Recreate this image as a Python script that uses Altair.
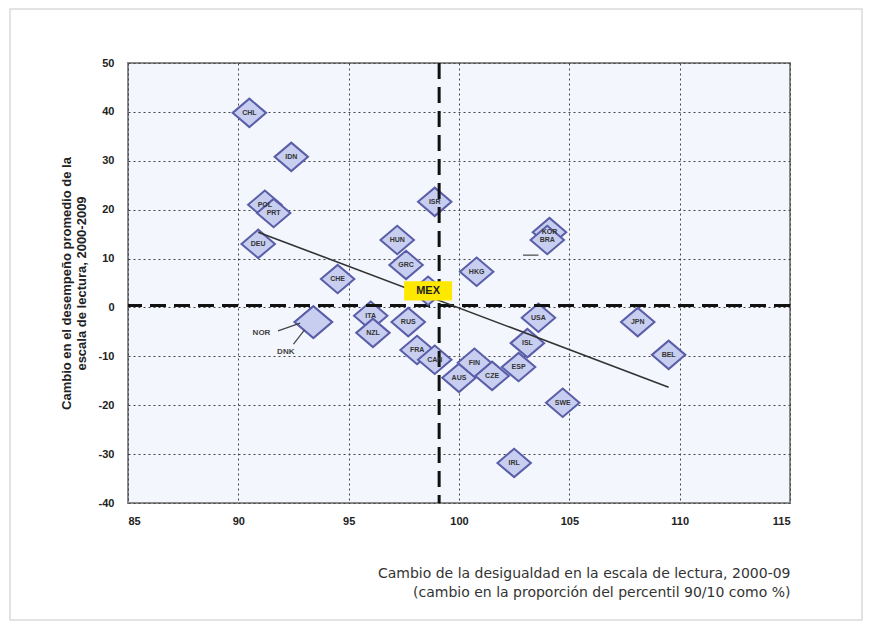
import altair as alt
import pandas as pd

# ---- data ----
codes = ["CHL", "IDN", "POL", "PRT", "DEU", "CHE", "ISR", "HUN", "GRC", "HKG",
         "KOR", "BRA", "ITA", "NZL", "RUS", "FRA", "CAN", "AUS", "FIN", "CZE",
         "ESP", "USA", "ISL", "SWE", "IRL", "JPN", "BEL"]
ineq = [90.5, 92.4, 91.2, 91.6, 90.9, 94.5, 98.9, 97.2, 97.6, 100.8,
        104.1, 104.0, 96.0, 96.1, 97.7, 98.1, 98.9, 100.0, 100.7, 101.5,
        102.7, 103.6, 103.1, 104.7, 102.5, 108.1, 109.5]
perf = [39.8, 30.8, 21.0, 19.3, 13.0, 5.8, 21.6, 13.8, 8.7, 7.3,
        15.4, 13.8, -1.7, -5.2, -3.0, -8.7, -10.7, -14.4, -11.3, -14.0,
        -12.2, -2.1, -7.3, -19.5, -31.8, -3.0, -9.7]

big_codes = ["NOR", "DNK"]
big_x = [93.4, 93.4]
big_y = [-3.0, -3.0]

mex_x = [98.6]
mex_y = [3.4]

# external labels with leader lines (NOR, DNK)
ext_label = ["NOR", "DNK"]
ext_x = [91.05, 92.15]
ext_y = [-5.2, -9.1]
lead_x1 = [91.8, 92.5, 102.9]
lead_y1 = [-4.8, -7.5, 10.7]
lead_x2 = [92.8, 93.0, 103.6]
lead_y2 = [-3.2, -4.6, 10.7]

trend_x = [90.9, 109.5]
trend_y = [15.4, -16.3]

ref_x = 99.1
ref_y = 0.4

x_ticks = [85, 90, 95, 100, 105, 110, 115]
y_ticks = [-40, -30, -20, -10, 0, 10, 20, 30, 40, 50]

x_title = ["Cambio de la desigualdad en la escala de lectura, 2000-09",
           "(cambio en la proporción del percentil 90/10 como %)"]
y_title = ["Cambio en el desempeño promedio de la",
           "escala de lectura, 2000-2009"]

# ---- tables ----
pts = pd.DataFrame({"code": codes, "x": ineq, "y": perf})
big = pd.DataFrame({"code": big_codes, "x": big_x, "y": big_y})
mex = pd.DataFrame({"code": ["MEX"], "x": mex_x, "y": mex_y})
ext = pd.DataFrame({"label": ext_label, "x": ext_x, "y": ext_y})
lead = pd.DataFrame({"x": lead_x1, "y": lead_y1, "x2": lead_x2, "y2": lead_y2})
trend = pd.DataFrame({"x": trend_x, "y": trend_y})
vdf = pd.DataFrame({"x": [ref_x]})
hdf = pd.DataFrame({"y": [ref_y]})

W, H = 662, 440
FONT = "Liberation Sans"

xs = alt.Scale(domain=[85, 115], nice=False, zero=False)
ys = alt.Scale(domain=[-40, 50], nice=False, zero=False)

xaxis = alt.Axis(values=x_ticks, title=x_title, titleAnchor="end", titleAlign="right",
                 titlePadding=40, labelPadding=12, ticks=False, domain=False,
                 labelExpr="toString(datum.value)",
                 grid=True, gridDash=[2, 3], gridColor="#444", gridWidth=1,
                 labelFont=FONT, labelFontSize=11, labelFontWeight="bold", labelColor="#222",
                 titleFont="DejaVu Sans", titleFontSize=14, titleFontWeight="normal",
                 titleColor="#333", titleLineHeight=19)
yaxis = alt.Axis(values=y_ticks, title=y_title, titlePadding=10, labelPadding=14,
                 ticks=False, domain=False,
                 labelExpr="toString(datum.value)",
                 grid=True, gridDash=[2, 3], gridColor="#444", gridWidth=1,
                 labelFont=FONT, labelFontSize=11, labelFontWeight="bold", labelColor="#222",
                 titleFont=FONT, titleFontSize=13, titleFontWeight="bold", titleColor="#222",
                 titleLineHeight=15)

X = alt.X("x:Q", scale=xs, axis=xaxis)
Y = alt.Y("y:Q", scale=ys, axis=yaxis)

DIAMOND = "M-1,0L0,-0.85L1,0L0,0.85Z"
FILL = "#C7CEEF"
STROKE = "#5A5DA8"

frame = alt.Chart(pd.DataFrame({"a": [0]})).mark_rect(
    fill=None, stroke="#dadada", strokeWidth=1.5
).encode(x=alt.value(-118), x2=alt.value(734), y=alt.value(-54), y2=alt.value(557))

base_pts = alt.Chart(pts).mark_point(
    shape=DIAMOND, size=1120, filled=True, fill=FILL, stroke=STROKE, strokeWidth=2, opacity=1
).encode(x=X, y=Y)

pt_labels = alt.Chart(pts).mark_text(
    font=FONT, fontSize=7, fontWeight="bold", color="#333"
).encode(x=X, y=Y, text="code:N")

big_pts = alt.Chart(big).mark_point(
    shape=DIAMOND, size=1400, filled=True, fill=FILL, stroke=STROKE, strokeWidth=2, opacity=1
).encode(x=X, y=Y)

vline = alt.Chart(vdf).mark_rule(
    color="#111", strokeWidth=3, strokeDash=[16, 8]
).encode(x=X)
hline = alt.Chart(hdf).mark_rule(
    color="#111", strokeWidth=3, strokeDash=[16, 8]
).encode(y=Y)

trend_line = alt.Chart(trend).mark_line(color="#333", strokeWidth=1.6).encode(x=X, y=Y)

leaders = alt.Chart(lead).mark_rule(color="#444", strokeWidth=1.2).encode(
    x=X, y=Y, x2="x2:Q", y2="y2:Q")
ext_text = alt.Chart(ext).mark_text(
    font=FONT, fontSize=8, fontWeight="bold", color="#444"
).encode(x=X, y=Y, text="label:N")

mex_pt = alt.Chart(mex).mark_point(
    shape=DIAMOND, size=1120, filled=True, fill=FILL, stroke=STROKE, strokeWidth=2, opacity=1
).encode(x=X, y=Y)
mex_box = alt.Chart(mex).mark_point(
    shape="M-1,-0.4H1V0.4H-1Z", size=2304, filled=True, fill="#FFE800", opacity=1, strokeWidth=0
).encode(x=X, y=Y)
mex_text = alt.Chart(mex).mark_text(
    font=FONT, fontSize=11, fontWeight="bold", color="#222"
).encode(x=X, y=Y, text="code:N")

chart = alt.layer(
    base_pts, frame, vline, hline, pt_labels, big_pts, leaders, ext_text,
    mex_pt, trend_line, mex_box, mex_text
).properties(
    width=W, height=H,
    autosize=alt.AutoSizeParams(type="none"),
    padding={"left": 120, "top": 55, "right": 73, "bottom": 118},
    background="white",
).configure_view(
    fill="#F3F6FC", stroke="#8a8a8a", strokeWidth=2
)

chart.save("out.html", embed_options={"renderer": "svg", "actions": False})
